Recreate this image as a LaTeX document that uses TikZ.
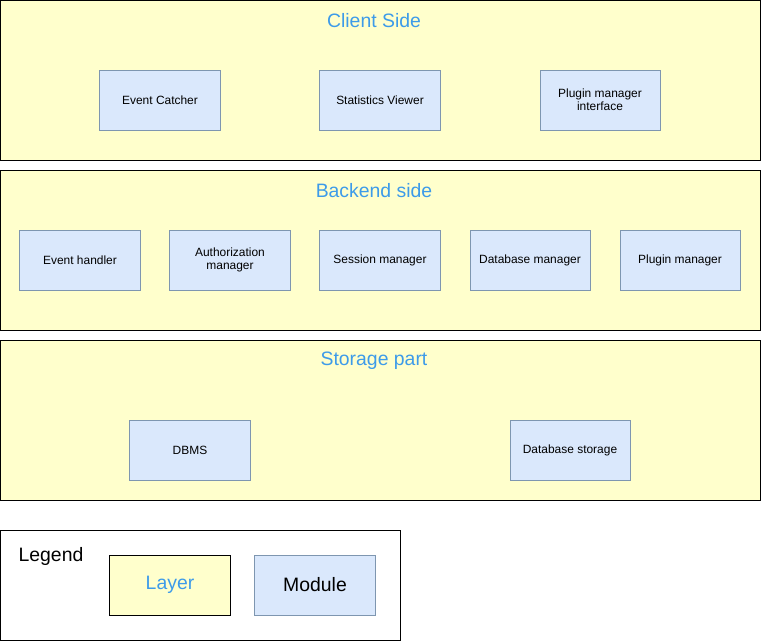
\documentclass[tikz,border=0pt]{standalone}
\usepackage{fontspec}
\setmainfont{Liberation Sans}
\usepackage{tikz}
\usetikzlibrary{positioning}
\definecolor{layerfill}{HTML}{FFFFCC}
\definecolor{modfill}{HTML}{DAE8FC}
\definecolor{moddraw}{HTML}{7E96B0}
\definecolor{titleblue}{HTML}{3D9BE9}
\tikzset{
	layer/.style={draw=black, fill=layerfill, line width=0.7pt},
	layertitle/.style={text=titleblue, font=\fontsize{13.8}{16}\selectfont},
	module/.style={draw=moddraw, fill=modfill, line width=0.7pt, minimum width=3cm, minimum height=1.5cm, align=center, inner sep=1pt, font=\fontsize{8.5}{9.5}\selectfont},
}

\begin{document}
\begin{tikzpicture}[x=0.025cm, y=-0.025cm]
	\useasboundingbox (0,0) rectangle (761,641);

	% client side
	\draw[layer] (0.5,0.5) rectangle (760,160);
	\node[layertitle] (clienttitle) at (374,21) {Client Side};
	\node[module] (catcher) at (160,100) {Event Catcher};
	\node[module] (viewer) at (380,100) {Statistics Viewer};
	\node[module] (pluginif) at (600,100) {Plugin manager\\interface};

	% backend side
	\draw[layer] (0.5,170) rectangle (760,330);
	\node[layertitle] (backendtitle) at (374,191) {Backend side};
	\node[module] (handler) at (80,260) {Event handler};
	\node[module] (auth) at (230,260) {Authorization\\manager};
	\node[module] (session) at (380,260) {Session manager};
	\node[module] (dbman) at (530,260) {Database manager};
	\node[module] (plugin) at (680,260) {Plugin manager};

	% storage part
	\draw[layer] (0.5,340) rectangle (760,500);
	\node[layertitle] (storagetitle) at (374,361) {Storage part};
	\node[module] (dbms) at (190,450) {DBMS};
	\node[module] (dbstore) at (570,450) {Database storage};

	% legend
	\draw[line width=0.7pt] (0.5,530) rectangle (400,640);
	\node[font=\fontsize{13.8}{16}\selectfont] (legend) at (51,556) {Legend};
	\node[layer, minimum width=3cm, minimum height=1.5cm, layertitle] (layerkey) at (170,585) {Layer};
	\node[module, font=\fontsize{13.8}{16}\selectfont] (modulekey) at (315,585) {Module};
\end{tikzpicture}
\end{document}
